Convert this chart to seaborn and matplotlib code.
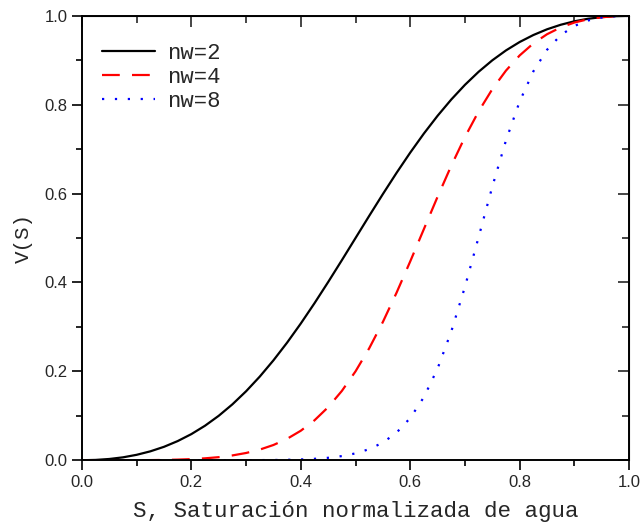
import numpy as np
import pandas as pd
import matplotlib
matplotlib.use("Agg")
import matplotlib.pyplot as plt
import seaborn as sns
from matplotlib.ticker import MultipleLocator

# saturation values read along the x axis
sat = [0.0, 0.025, 0.05, 0.075, 0.1, 0.125, 0.15, 0.175, 0.2, 0.225, 0.25,
       0.275, 0.3, 0.325, 0.35, 0.375, 0.4, 0.425, 0.45, 0.475, 0.5,
       0.525, 0.55, 0.575, 0.6, 0.625, 0.65, 0.675, 0.7, 0.725, 0.75,
       0.775, 0.8, 0.825, 0.85, 0.875, 0.9, 0.925, 0.95, 0.975, 1.0]

v_nw2 = [0.0, 0.0007, 0.0028, 0.0065, 0.0122, 0.0200, 0.0302, 0.0431, 0.0588, 0.0777, 0.100,
         0.1258, 0.1552, 0.1882, 0.2248, 0.2647, 0.3077, 0.3533, 0.4010, 0.4501, 0.500,
         0.5499, 0.5990, 0.6467, 0.6923, 0.7353, 0.7752, 0.8118, 0.8448, 0.8742, 0.900,
         0.9223, 0.9412, 0.9569, 0.9698, 0.9800, 0.9878, 0.9935, 0.9972, 0.9993, 1.0]

v_nw4 = [0.0, 0.0, 0.0, 0.0, 0.0001, 0.0003, 0.0007, 0.0014, 0.0025, 0.0043, 0.0069,
         0.0108, 0.0163, 0.0239, 0.0343, 0.0482, 0.0664, 0.0898, 0.1194, 0.1559, 0.200,
         0.2519, 0.3112, 0.3770, 0.4475, 0.5204, 0.5930, 0.6628, 0.7274, 0.7851, 0.8351,
         0.8769, 0.9110, 0.9380, 0.9587, 0.9741, 0.9850, 0.9924, 0.9969, 0.9993, 1.0]

v_nw8 = [0.0, 0.0, 0.0, 0.0, 0.0, 0.0, 0.0, 0.0, 0.0, 0.0, 0.0,
         0.0001, 0.0001, 0.0003, 0.0005, 0.0010, 0.0018, 0.0032, 0.0055, 0.0093, 0.0154,
         0.0249, 0.0397, 0.0621, 0.0950, 0.1421, 0.2064, 0.2898, 0.3904, 0.5023, 0.6157,
         0.7199, 0.8075, 0.8751, 0.9237, 0.9565, 0.9773, 0.9896, 0.9963, 0.9992, 1.0]

labels = ["nw=2", "nw=4", "nw=8"]

df = pd.DataFrame({"S": sat * 3,
                   "V": v_nw2 + v_nw4 + v_nw8,
                   "curve": [labels[0]] * len(sat) + [labels[1]] * len(sat) + [labels[2]] * len(sat)})

sns.set_style("ticks")
plt.rcParams["font.family"] = ["Liberation Sans", "DejaVu Sans"]

fig = plt.figure(figsize=(6.4, 5.29), dpi=100)
ax = fig.add_axes([0.128, 0.13, 0.855, 0.84])

sns.lineplot(data=df, x="S", y="V", hue="curve", style="curve",
             palette=["black", "red", "blue"],
             dashes=[(), (8, 5.5), (1, 4.8)], linewidth=1.6, ax=ax)

ax.set_xlim(0, 1)
ax.set_ylim(0, 1)
ax.xaxis.set_major_locator(MultipleLocator(0.2))
ax.yaxis.set_major_locator(MultipleLocator(0.2))
ax.xaxis.set_minor_locator(MultipleLocator(0.1))
ax.yaxis.set_minor_locator(MultipleLocator(0.1))
ax.tick_params(which="major", direction="out", length=7, width=1.2, labelsize=12, color="black")
ax.tick_params(which="minor", direction="out", length=4, width=1.2, color="black")
for sp in ax.spines.values():
    sp.set_linewidth(1.4)
    sp.set_color("black")

# inward ticks on the top and right side
top = ax.secondary_xaxis("top")
top.xaxis.set_major_locator(MultipleLocator(0.2))
top.xaxis.set_minor_locator(MultipleLocator(0.1))
top.tick_params(which="major", direction="in", length=8, width=1.2, labeltop=False)
top.tick_params(which="minor", direction="in", length=5, width=1.2)
right = ax.secondary_yaxis("right")
right.yaxis.set_major_locator(MultipleLocator(0.2))
right.yaxis.set_minor_locator(MultipleLocator(0.1))
right.tick_params(which="major", direction="in", length=8, width=1.2, labelright=False)
right.tick_params(which="minor", direction="in", length=5, width=1.2)

mono = ["Liberation Mono", "DejaVu Sans Mono"]
ax.set_xlabel("S, Saturación normalizada de agua", family=mono, fontsize=16.2, labelpad=8)
ax.set_ylabel("V(S)", family=mono, fontsize=15, labelpad=8)

leg = ax.legend(loc="upper left", frameon=False, fontsize=16,
                handlelength=2.4, handletextpad=0.55, bbox_to_anchor=(0.0, 0.985),
                labelspacing=0.15)
leg.set_title(None)
for t in leg.get_texts():
    t.set_fontfamily(mono)

fig.savefig("out.png", dpi=100)
